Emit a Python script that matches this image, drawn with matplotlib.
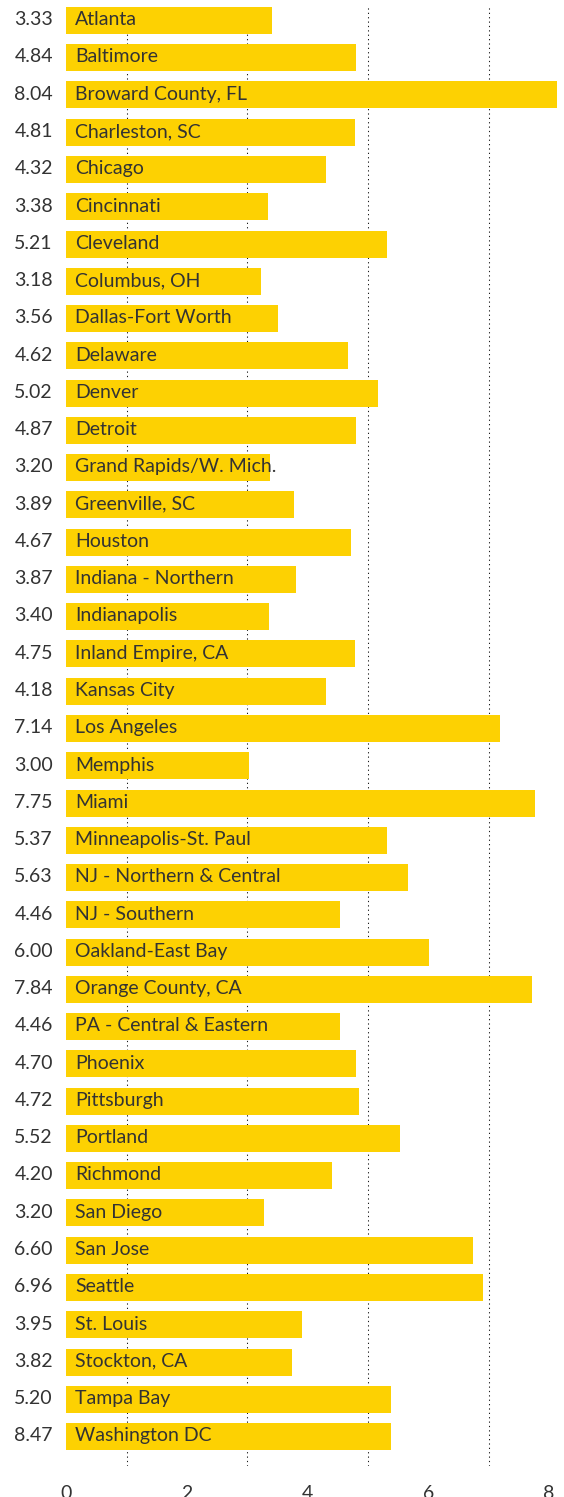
import matplotlib
matplotlib.use("Agg")
import matplotlib.pyplot as plt
from matplotlib.transforms import blended_transform_factory

cities = ["Atlanta", "Baltimore", "Broward County, FL", "Charleston, SC", "Chicago",
          "Cincinnati", "Cleveland", "Columbus, OH", "Dallas-Fort Worth", "Delaware",
          "Denver", "Detroit", "Grand Rapids/W. Mich.", "Greenville, SC", "Houston",
          "Indiana - Northern", "Indianapolis", "Inland Empire, CA", "Kansas City",
          "Los Angeles", "Memphis", "Miami", "Minneapolis-St. Paul",
          "NJ - Northern & Central", "NJ - Southern", "Oakland-East Bay",
          "Orange County, CA", "PA - Central & Eastern", "Phoenix", "Pittsburgh",
          "Portland", "Richmond", "San Diego", "San Jose", "Seattle", "St. Louis",
          "Stockton, CA", "Tampa Bay", "Washington DC"]

label_values = ["3.33", "4.84", "8.04", "4.81", "4.32", "3.38", "5.21", "3.18", "3.56",
                "4.62", "5.02", "4.87", "3.20", "3.89", "4.67", "3.87", "3.40", "4.75",
                "4.18", "7.14", "3.00", "7.75", "5.37", "5.63", "4.46", "6.00", "7.84",
                "4.46", "4.70", "4.72", "5.52", "4.20", "3.20", "6.60", "6.96", "3.95",
                "3.82", "5.20", "8.47"]

bar_values = [3.41, 4.80, 8.13, 4.79, 4.30, 3.34, 5.31, 3.23, 3.51, 4.67, 5.17, 4.80,
              3.38, 3.77, 4.72, 3.81, 3.36, 4.79, 4.30, 7.19, 3.03, 7.77, 5.31, 5.66,
              4.54, 6.01, 7.72, 4.54, 4.80, 4.85, 5.53, 4.41, 3.28, 6.74, 6.91, 3.91,
              3.74, 5.38, 5.38]

x_ticks = [0, 2, 4, 6, 8]
grid_ticks = [1, 2, 3, 4, 5, 6, 7, 8]

FONT = ["Lato", "DejaVu Sans"]
TEXT = "#333333"
BAR = "#FDD102"

W, H = 564, 1497
fig = plt.figure(figsize=(W / 100, H / 100), dpi=100)
left_px, right_px, top_px, bottom_px = 66.3, 564, 7, 1466
ax = fig.add_axes([left_px / W, (H - bottom_px) / H,
                   (right_px - left_px) / W, (bottom_px - top_px) / H])

n = len(cities)
ypos = list(range(n))
ax.barh(ypos, bar_values, height=0.725, color=BAR, zorder=2)

ax.set_xlim(0, (right_px - left_px) / 60.33)
ax.set_ylim(n - 1 + 0.79, -0.36)

ax.set_xticks(x_ticks)
ax.set_xticklabels([str(t) for t in x_ticks], fontfamily=FONT, fontsize=14, color=TEXT)
ax.set_xticks(grid_ticks, minor=True)
ax.tick_params(axis="x", which="both", length=0, pad=14)
ax.set_yticks([])
ax.grid(which="minor", axis="x", color="#1a1a1a", linestyle=(0, (1.2, 3.0)),
        linewidth=0.75, zorder=1)
ax.grid(which="major", visible=False)
for t in ax.xaxis.get_minor_ticks():
    t.gridline.set_snap(True)
for s in ax.spines.values():
    s.set_visible(False)

trans = blended_transform_factory(ax.transAxes, ax.transData)
for i, (c, v) in enumerate(zip(cities, label_values)):
    ax.annotate(c, xy=(0, i), xycoords=trans, xytext=(6.5, 1.6), textcoords="offset points",
                ha="left", va="center_baseline", fontfamily=FONT, fontsize=14,
                color=TEXT, zorder=3)
    ax.annotate(v, xy=(0, i), xycoords=trans, xytext=(-9.7, 1.6), textcoords="offset points",
                ha="right", va="center_baseline", fontfamily=FONT, fontsize=14,
                color=TEXT, zorder=3)

fig.savefig("out.png", dpi=100)
